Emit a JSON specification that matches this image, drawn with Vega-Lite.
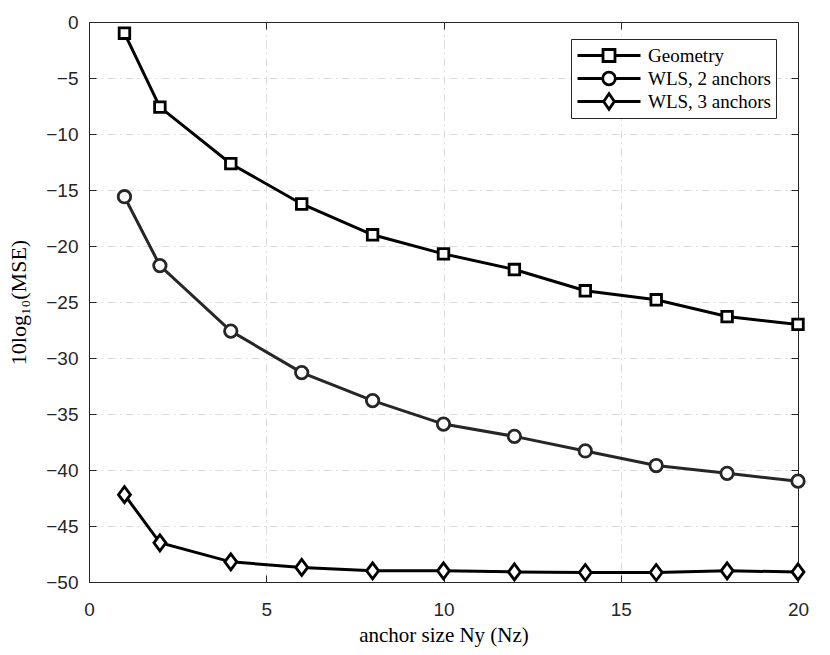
{
  "$schema": "https://vega.github.io/schema/vega-lite/v6.json",
  "description": "MSE versus anchor size",
  "width": 709,
  "height": 560,
  "autosize": {"type": "none"},
  "padding": {"left": 89, "top": 22, "right": 32, "bottom": 73},
  "background": "white",
  "data": {
    "values": [
      {"n": 1, "mse": -1.0, "series": "Geometry"},
      {"n": 2, "mse": -7.6, "series": "Geometry"},
      {"n": 4, "mse": -12.65, "series": "Geometry"},
      {"n": 6, "mse": -16.25, "series": "Geometry"},
      {"n": 8, "mse": -19.0, "series": "Geometry"},
      {"n": 10, "mse": -20.7, "series": "Geometry"},
      {"n": 12, "mse": -22.1, "series": "Geometry"},
      {"n": 14, "mse": -24.0, "series": "Geometry"},
      {"n": 16, "mse": -24.8, "series": "Geometry"},
      {"n": 18, "mse": -26.3, "series": "Geometry"},
      {"n": 20, "mse": -27.0, "series": "Geometry"},
      {"n": 1, "mse": -15.6, "series": "WLS, 2 anchors"},
      {"n": 2, "mse": -21.75, "series": "WLS, 2 anchors"},
      {"n": 4, "mse": -27.6, "series": "WLS, 2 anchors"},
      {"n": 6, "mse": -31.3, "series": "WLS, 2 anchors"},
      {"n": 8, "mse": -33.8, "series": "WLS, 2 anchors"},
      {"n": 10, "mse": -35.9, "series": "WLS, 2 anchors"},
      {"n": 12, "mse": -37.0, "series": "WLS, 2 anchors"},
      {"n": 14, "mse": -38.3, "series": "WLS, 2 anchors"},
      {"n": 16, "mse": -39.6, "series": "WLS, 2 anchors"},
      {"n": 18, "mse": -40.3, "series": "WLS, 2 anchors"},
      {"n": 20, "mse": -41.0, "series": "WLS, 2 anchors"},
      {"n": 1, "mse": -42.2, "series": "WLS, 3 anchors"},
      {"n": 2, "mse": -46.5, "series": "WLS, 3 anchors"},
      {"n": 4, "mse": -48.2, "series": "WLS, 3 anchors"},
      {"n": 6, "mse": -48.7, "series": "WLS, 3 anchors"},
      {"n": 8, "mse": -49.0, "series": "WLS, 3 anchors"},
      {"n": 10, "mse": -49.0, "series": "WLS, 3 anchors"},
      {"n": 12, "mse": -49.1, "series": "WLS, 3 anchors"},
      {"n": 14, "mse": -49.15, "series": "WLS, 3 anchors"},
      {"n": 16, "mse": -49.15, "series": "WLS, 3 anchors"},
      {"n": 18, "mse": -49.0, "series": "WLS, 3 anchors"},
      {"n": 20, "mse": -49.1, "series": "WLS, 3 anchors"}
    ]
  },
  "layer": [
    {
      "mark": {"type": "line", "strokeWidth": 3, "clip": true},
      "encoding": {
        "x": {
          "field": "n",
          "type": "quantitative",
          "scale": {"domain": [0, 20], "nice": false},
          "axis": {
            "orient": "bottom",
            "values": [0, 5, 10, 15, 20],
            "title": "anchor size Ny (Nz)",
            "titleFont": "Liberation Serif",
            "titleFontSize": 21,
            "titleFontWeight": "normal",
            "titleColor": "black",
            "titlePadding": 5,
            "grid": true,
            "tickSize": -7,
            "labelPadding": 25
          }
        },
        "y": {
          "field": "mse",
          "type": "quantitative",
          "scale": {"domain": [-50, 0], "nice": false},
          "axis": {
            "orient": "left",
            "values": [-50, -45, -40, -35, -30, -25, -20, -15, -10, -5, 0],
            "title": "10log₁₀(MSE)",
            "titleFont": "Liberation Serif",
            "titleFontSize": 22,
            "titleFontWeight": "normal",
            "titleColor": "black",
            "titlePadding": 15,
            "grid": true,
            "tickSize": -7,
            "labelPadding": 18
          }
        },
        "detail": {"field": "series", "type": "nominal"},
        "color": {
          "field": "series",
          "type": "nominal",
          "scale": {
            "domain": ["Geometry", "WLS, 2 anchors", "WLS, 3 anchors"],
            "range": ["#000000", "#262626", "#000000"]
          },
          "legend": null
        }
      }
    },
    {
      "mark": {
        "type": "point",
        "filled": false,
        "fill": "white",
        "fillOpacity": 1,
        "opacity": 1,
        "strokeWidth": 2.8,
        "size": 256
      },
      "encoding": {
        "x": {
          "field": "n",
          "type": "quantitative",
          "scale": {"domain": [0, 20], "nice": false},
          "axis": {
            "orient": "top",
            "values": [0, 5, 10, 15, 20],
            "title": null,
            "labels": false,
            "grid": false,
            "tickSize": -7
          }
        },
        "y": {
          "field": "mse",
          "type": "quantitative",
          "scale": {"domain": [-50, 0], "nice": false},
          "axis": {
            "orient": "right",
            "values": [-50, -45, -40, -35, -30, -25, -20, -15, -10, -5, 0],
            "title": null,
            "labels": false,
            "grid": false,
            "tickSize": -7
          }
        },
        "color": {
          "field": "series",
          "type": "nominal",
          "scale": {
            "domain": ["Geometry", "WLS, 2 anchors", "WLS, 3 anchors"],
            "range": ["#000000", "#262626", "#000000"]
          },
          "legend": null
        },
        "shape": {
          "field": "series",
          "type": "nominal",
          "scale": {
            "domain": ["Geometry", "WLS, 2 anchors", "WLS, 3 anchors"],
            "range": [
              "M-0.66,-0.66H0.66V0.66H-0.66Z",
              "M0.78,0A0.78,0.78,0,1,1,-0.78,0A0.78,0.78,0,1,1,0.78,0Z",
              "M0,-1L0.75,0L0,1L-0.75,0Z"
            ]
          },
          "legend": null
        }
      }
    },
    {
      "transform": [{"filter": "datum.n < 0"}],
      "mark": {
        "type": "point",
        "filled": false,
        "color": "black",
        "opacity": 1,
        "strokeWidth": 2.8
      },
      "encoding": {
        "x": {"field": "n", "type": "quantitative", "axis": null},
        "y": {"field": "mse", "type": "quantitative", "axis": null},
        "shape": {
          "field": "series",
          "type": "nominal",
          "scale": {
            "domain": ["Geometry", "WLS, 2 anchors", "WLS, 3 anchors"],
            "range": [
              "M-1,0H-0.2M0.2,0H1M-0.19,-0.19H0.19V0.19H-0.19Z",
              "M-1,0H-0.2M0.2,0H1M0.2,0A0.2,0.2,0,1,1,-0.2,0A0.2,0.2,0,1,1,0.2,0Z",
              "M-1,0H-0.17M0.17,0H1M0,-0.25L0.17,0L0,0.25L-0.17,0Z"
            ]
          },
          "legend": {
            "title": null,
            "orient": "none",
            "legendX": 482,
            "legendY": 17,
            "padding": 5,
            "rowPadding": 0,
            "clipHeight": 23,
            "symbolSize": 3969,
            "symbolStrokeWidth": 2.8,
            "symbolStrokeColor": "black",
            "symbolFillColor": "white",
            "symbolOpacity": 1,
            "labelOffset": 6,
            "labelFont": "Liberation Serif",
            "labelFontSize": 19,
            "labelColor": "black",
            "strokeColor": "#262626",
            "fillColor": "white"
          }
        }
      }
    }
  ],
  "resolve": {
    "axis": {"x": "independent", "y": "independent"},
    "scale": {"shape": "independent"},
    "legend": {"shape": "independent"}
  },
  "config": {
    "view": {"stroke": "#262626", "strokeWidth": 1},
    "axis": {
      "domainColor": "#262626",
      "domainWidth": 1,
      "tickColor": "#262626",
      "tickWidth": 1,
      "labelFont": "Liberation Sans",
      "labelFontSize": 19,
      "labelColor": "#262626",
      "gridColor": "#dcdcdc",
      "gridWidth": 1,
      "gridDash": [8, 4, 2, 4],
      "labelFlush": false,
      "labelOverlap": false
    }
  }
}
